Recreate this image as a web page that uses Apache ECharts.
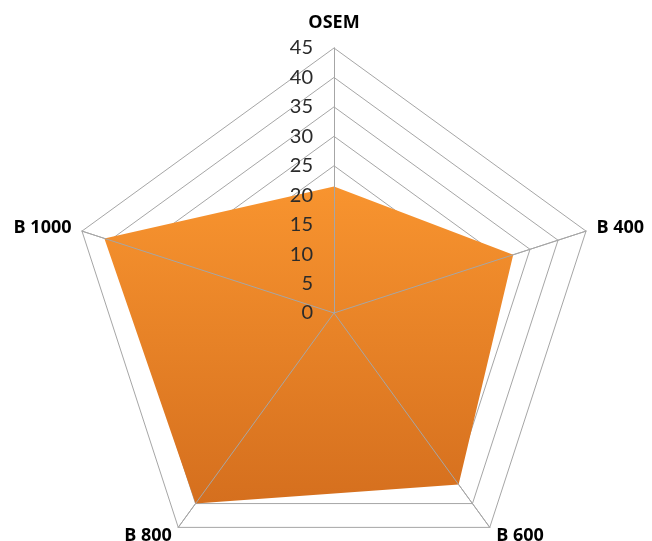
<!DOCTYPE html>
<html>
<head>
<meta charset="utf-8">
<script src="https://cdn.jsdelivr.net/npm/echarts@6/dist/echarts.min.js"></script>
<style>
  html, body { margin: 0; padding: 0; background: #fff; }
  #chart { width: 652px; height: 541px; }
</style>
</head>
<body>
<div id="chart"></div>
<script>
// Radar axes, clockwise from the top
const indicatorNames = ['OSEM', 'B 400', 'B 600', 'B 800', 'B 1000'];
// Values on each axis (same order)
const seriesValues = [21.5, 32, 36, 40, 41];
// Axis scale
const axisMax = 45;
const axisStep = 5;

// ECharts lays radar axes out counter-clockwise, so keep the first axis on top
// and reverse the rest to run them clockwise.
const order = [0].concat(indicatorNames.map((_, i) => i).slice(1).reverse());
const radarNames = order.map(i => indicatorNames[i]);
const radarValues = order.map(i => seriesValues[i]);

const gridColor = '#a6a6a6';
const baseRadar = {
  center: [334, 313],
  radius: 265,
  startAngle: 90,
  shape: 'polygon',
  splitNumber: axisMax / axisStep,
  indicator: radarNames.map(n => ({ name: n, min: 0, max: axisMax })),
  splitArea: { show: false },
  axisTick: { show: false },
  axisLabel: { show: false }
};

const chart = echarts.init(document.getElementById('chart'), null, { renderer: 'canvas' });

chart.setOption({
  backgroundColor: '#ffffff',
  animation: false,
  radar: [
    // rings and axis names, under the filled area
    Object.assign({}, baseRadar, {
      z: 0,
      axisName: {
        color: '#000000',
        fontFamily: '"Open Sans", "Liberation Sans", sans-serif',
        fontWeight: 'bold',
        fontSize: 18,
        formatter: n => n === 'OSEM' ? '{top|' + n + '}' : n,
        rich: {
          top: {
            fontFamily: '"Open Sans", "Liberation Sans", sans-serif',
            fontWeight: 'bold',
            fontSize: 18,
            color: '#000000',
            padding: [0, 0, 5, 0]
          }
        }
      },
      nameGap: 11,
      axisLine: { lineStyle: { color: gridColor, width: 1 } },
      splitLine: { lineStyle: { color: gridColor, width: 1 } }
    }),
    // spokes drawn over the filled area
    Object.assign({}, baseRadar, {
      z: 5,
      axisName: { show: false },
      axisLine: { lineStyle: { color: gridColor, width: 1 } },
      splitLine: { show: false }
    })
  ],
  series: [{
    type: 'radar',
    radarIndex: 0,
    symbol: 'none',
    z: 2,
    lineStyle: { width: 0, opacity: 0 },
    areaStyle: {
      opacity: 1,
      color: new echarts.graphic.LinearGradient(0, 0, 0, 1, [
        { offset: 0, color: '#f8942f' },
        { offset: 1, color: '#d56f1e' }
      ])
    },
    data: [{ value: radarValues }]
  }]
});

// Tick values along the top axis, drawn on the radar's own scale
const radarCoord = chart.getModel().getComponent('radar', 0).coordinateSystem;
const ticks = [];
for (let v = 0; v <= axisMax; v += axisStep) ticks.push(v);
chart.setOption({
  graphic: ticks.map(v => {
    const p = radarCoord.dataToPoint(v, 0);
    return {
      type: 'text',
      x: p[0] - 21,
      y: p[1],
      z: 10,
      style: {
        text: String(v),
        align: 'right',
        verticalAlign: 'middle',
        fill: '#2b2b2b',
        font: '20px Lato, "Open Sans", sans-serif'
      }
    };
  })
});
</script>
</body>
</html>
